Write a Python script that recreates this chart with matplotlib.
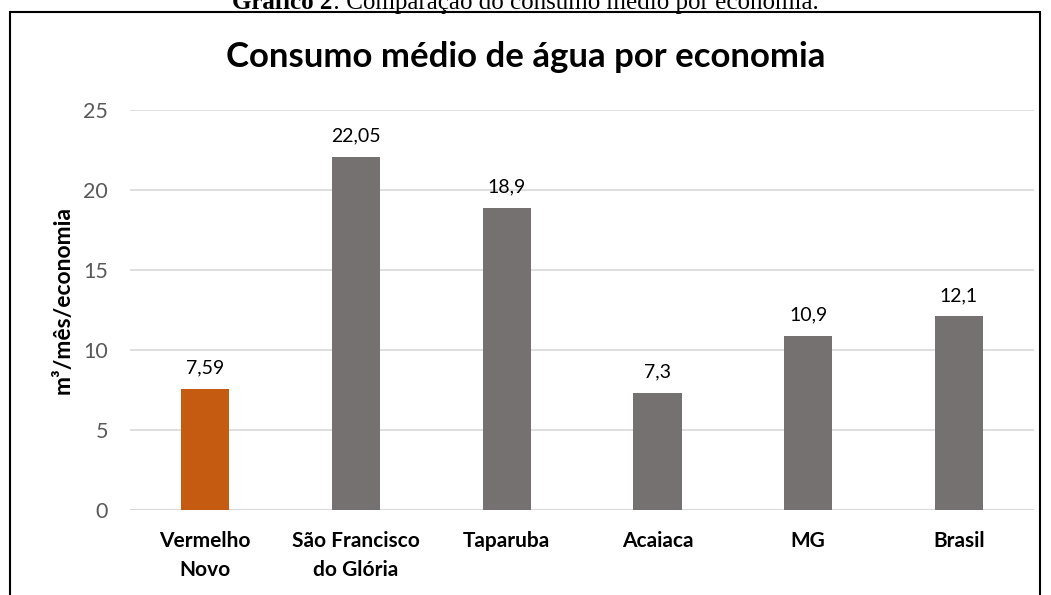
import matplotlib
matplotlib.use("Agg")
import matplotlib.pyplot as plt
from matplotlib.patches import Rectangle

categories = ["Vermelho\nNovo", "São Francisco\ndo Glória", "Taparuba", "Acaiaca", "MG", "Brasil"]
values = [7.59, 22.05, 18.9, 7.3, 10.9, 12.1]
value_labels = ["7,59", "22,05", "18,9", "7,3", "10,9", "12,1"]
yticks = [0, 5, 10, 15, 20, 25]

ORANGE = "#C55A11"
GRAY = "#767171"

plt.rcParams["font.family"] = ["Lato", "DejaVu Sans"]

fig = plt.figure(figsize=(10.51, 5.95), dpi=100)
ax = fig.add_axes([0.1237, 0.1429, 0.8603, 0.6722])

x = list(range(len(categories)))
colors = [ORANGE] + [GRAY] * (len(categories) - 1)
ax.bar(x, values, width=0.32, color=colors, zorder=3)

for xi, v, lab in zip(x, values, value_labels):
    ax.annotate(lab, (xi, v), xytext=(0, 9), textcoords="offset points",
                ha="center", va="bottom", fontsize=14, color="black")

ax.set_xlim(-0.5, len(categories) - 0.5)
ax.set_ylim(0, 25)
ax.set_yticks(yticks)
ax.set_yticklabels([str(t) for t in yticks], fontsize=15.5, color="#595959")
ax.set_xticks(x)
ax.set_xticklabels(categories, fontsize=15, fontweight="bold", color="black",
                   linespacing=1.6)
ax.tick_params(axis="both", length=0)
ax.tick_params(axis="y", pad=16)
ax.tick_params(axis="x", pad=15)
ax.grid(axis="y", color="#D9D9D9", linewidth=1.2, zorder=0)
for s in ax.spines.values():
    s.set_visible(False)
ax.axhline(0, color="#D9D9D9", linewidth=1.5, zorder=2)

fig.text(63 / 1051, 1 - 300 / 595, "m³/mês/economia", rotation=90,
         ha="center", va="center", fontsize=16.5, fontweight="bold", color="black")

fig.text(0.5, 1 - 57 / 595, "Consumo médio de água por economia",
         ha="center", va="center", fontsize=25, fontweight="bold", color="black")

# chart frame
fig.patches.append(Rectangle((10 / 1051, -0.1), 1030 / 1051, 1.1 - 12 / 595,
                             transform=fig.transFigure, fill=False,
                             edgecolor="black", linewidth=1.5))

# document caption, partly cut at the top as in the source page
serif = ["Liberation Serif", "DejaVu Serif"]
yb = 1 - 9 / 595
t1 = fig.text(0, yb, "Gráfico 2", ha="left", va="baseline",
              fontsize=18, fontweight="bold", family=serif)
t2 = fig.text(0, yb, ": Comparação do consumo médio por economia.", ha="left",
              va="baseline", fontsize=18, family=serif)
r = fig.canvas.get_renderer()
w1 = t1.get_window_extent(r).width
w2 = t2.get_window_extent(r).width
x0 = (1051 - w1 - w2) / 2 / 1051
t1.set_x(x0)
t2.set_x(x0 + w1 / 1051)

fig.savefig("out.png", dpi=100)
